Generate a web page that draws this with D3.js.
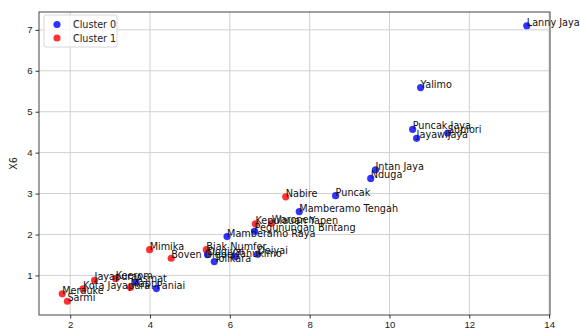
<!DOCTYPE html>
<html>
<head>
<meta charset="utf-8">
<script src="https://cdn.jsdelivr.net/npm/d3@7"></script>
<style>
	body { margin: 0; background: #fff; }
	svg { font-family: "DejaVu Sans", sans-serif; }
	.axis path, .axis line { stroke: #333; }
	.axis text { fill: #222; font-size: 9.6px; }
	.grid line { stroke: #d0d0d0; stroke-width: 1; }
</style>
</head>
<body>
<svg id="chart" width="580" height="329"></svg>
<script>
var names = ["Lanny Jaya","Yalimo","Puncak Jaya","Supiori","Jayawijaya","Intan Jaya","Nduga","Puncak",
	"Mamberamo Tengah","Pegunungan Bintang","Mamberamo Raya","Dogiyai","Yahukimo","Deiyai","Tolikara","Asmat","Paniai",
	"Nabire","Kepulauan Yapen","Waropen","Mimika","Boven Digoel","Biak Numfor","Merauke","Sarmi",
	"Kota Jayapura","Jayapura","Keerom","Mappi"];
var xs = [13.44,10.78,10.58,11.46,10.68,9.65,9.53,8.65,
	7.74,6.62,5.93,5.44,6.14,6.69,5.61,3.65,4.16,
	7.40,6.64,7.05,3.99,4.53,5.41,1.80,1.93,
	2.32,2.61,3.14,3.51];
var ys = [7.10,5.59,4.57,4.48,4.35,3.58,3.37,2.95,
	2.56,2.08,1.95,1.51,1.46,1.52,1.34,0.83,0.68,
	2.92,2.26,2.28,1.63,1.42,1.63,0.55,0.37,
	0.67,0.88,0.92,0.71];
var cluster = [0,0,0,0,0,0,0,0,0,0,0,0,0,0,0,0,0,
	1,1,1,1,1,1,1,1,1,1,1,1];
var clusterNames = ["Cluster 0","Cluster 1"];
var xTicks = [2,4,6,8,10,12,14];
var yTicks = [1,2,3,4,5,6,7];

var colors = ["rgba(0,0,255,0.8)","rgba(255,0,0,0.8)"];

var data = names.map(function(n, i) {
	return {name: n, x: xs[i], y: ys[i], c: cluster[i]};
});

var box = {left: 39, right: 550, top: 12, bottom: 315};

function padded(vals) {
	var lo = d3.min(vals), hi = d3.max(vals), p = (hi - lo) * 0.05;
	return [lo - p, hi + p];
}

var x = d3.scaleLinear().domain(padded(xs)).range([box.left, box.right]);
var y = d3.scaleLinear().domain(padded(ys)).range([box.bottom, box.top]);

var svg = d3.select("#chart");

// grid
var grid = svg.append("g").attr("class", "grid");
grid.selectAll(".gx").data(xTicks).enter().append("line")
	.attr("x1", function(d) { return x(d); }).attr("x2", function(d) { return x(d); })
	.attr("y1", box.top).attr("y2", box.bottom);
grid.selectAll(".gy").data(yTicks).enter().append("line")
	.attr("y1", function(d) { return y(d); }).attr("y2", function(d) { return y(d); })
	.attr("x1", box.left).attr("x2", box.right);

// points
svg.selectAll(".dot").data(data).enter().append("circle")
	.attr("class", "dot")
	.attr("r", 3.6)
	.attr("cx", function(d) { return x(d.x); })
	.attr("cy", function(d) { return y(d.y); })
	.attr("fill", function(d) { return colors[d.c]; });

// labels
svg.selectAll(".lbl").data(data).enter().append("text")
	.attr("class", "lbl")
	.attr("x", function(d) { return x(d.x); })
	.attr("y", function(d) { return y(d.y); })
	.attr("font-size", "9.7px")
	.attr("fill", "#111")
	.text(function(d) { return d.name; });

// frame
svg.append("rect")
	.attr("x", box.left).attr("y", box.top)
	.attr("width", box.right - box.left).attr("height", box.bottom - box.top)
	.attr("fill", "none").attr("stroke", "#444").attr("stroke-width", 1);

svg.append("g")
	.attr("class", "axis")
	.attr("transform", "translate(0," + box.bottom + ")")
	.call(d3.axisBottom(x).tickValues(xTicks).tickSize(3.5).tickPadding(3).tickFormat(d3.format("d")))
	.select(".domain").remove();

svg.append("g")
	.attr("class", "axis")
	.attr("transform", "translate(" + box.left + ",0)")
	.call(d3.axisLeft(y).tickValues(yTicks).tickSize(3.5).tickPadding(3).tickFormat(d3.format("d")))
	.select(".domain").remove();

svg.append("text")
	.attr("transform", "translate(17," + ((box.top + box.bottom) / 2) + ") rotate(-90)")
	.attr("text-anchor", "middle")
	.attr("font-size", "9.6px")
	.attr("fill", "#222")
	.text("X6");

// legend
var lg = svg.append("g").attr("transform", "translate(44,15)");
lg.append("rect")
	.attr("width", 73).attr("height", 32).attr("rx", 2)
	.attr("fill", "rgba(255,255,255,0.8)")
	.attr("stroke", "#d8d8d8");
clusterNames.forEach(function(c, i) {
	lg.append("circle")
		.attr("cx", 13).attr("cy", 9.5 + i * 13.5).attr("r", 3.6)
		.attr("fill", colors[i]);
	lg.append("text")
		.attr("x", 29).attr("y", 13 + i * 13.5)
		.attr("font-size", "9.6px").attr("fill", "#222")
		.text(c);
});
</script>
</body>
</html>
